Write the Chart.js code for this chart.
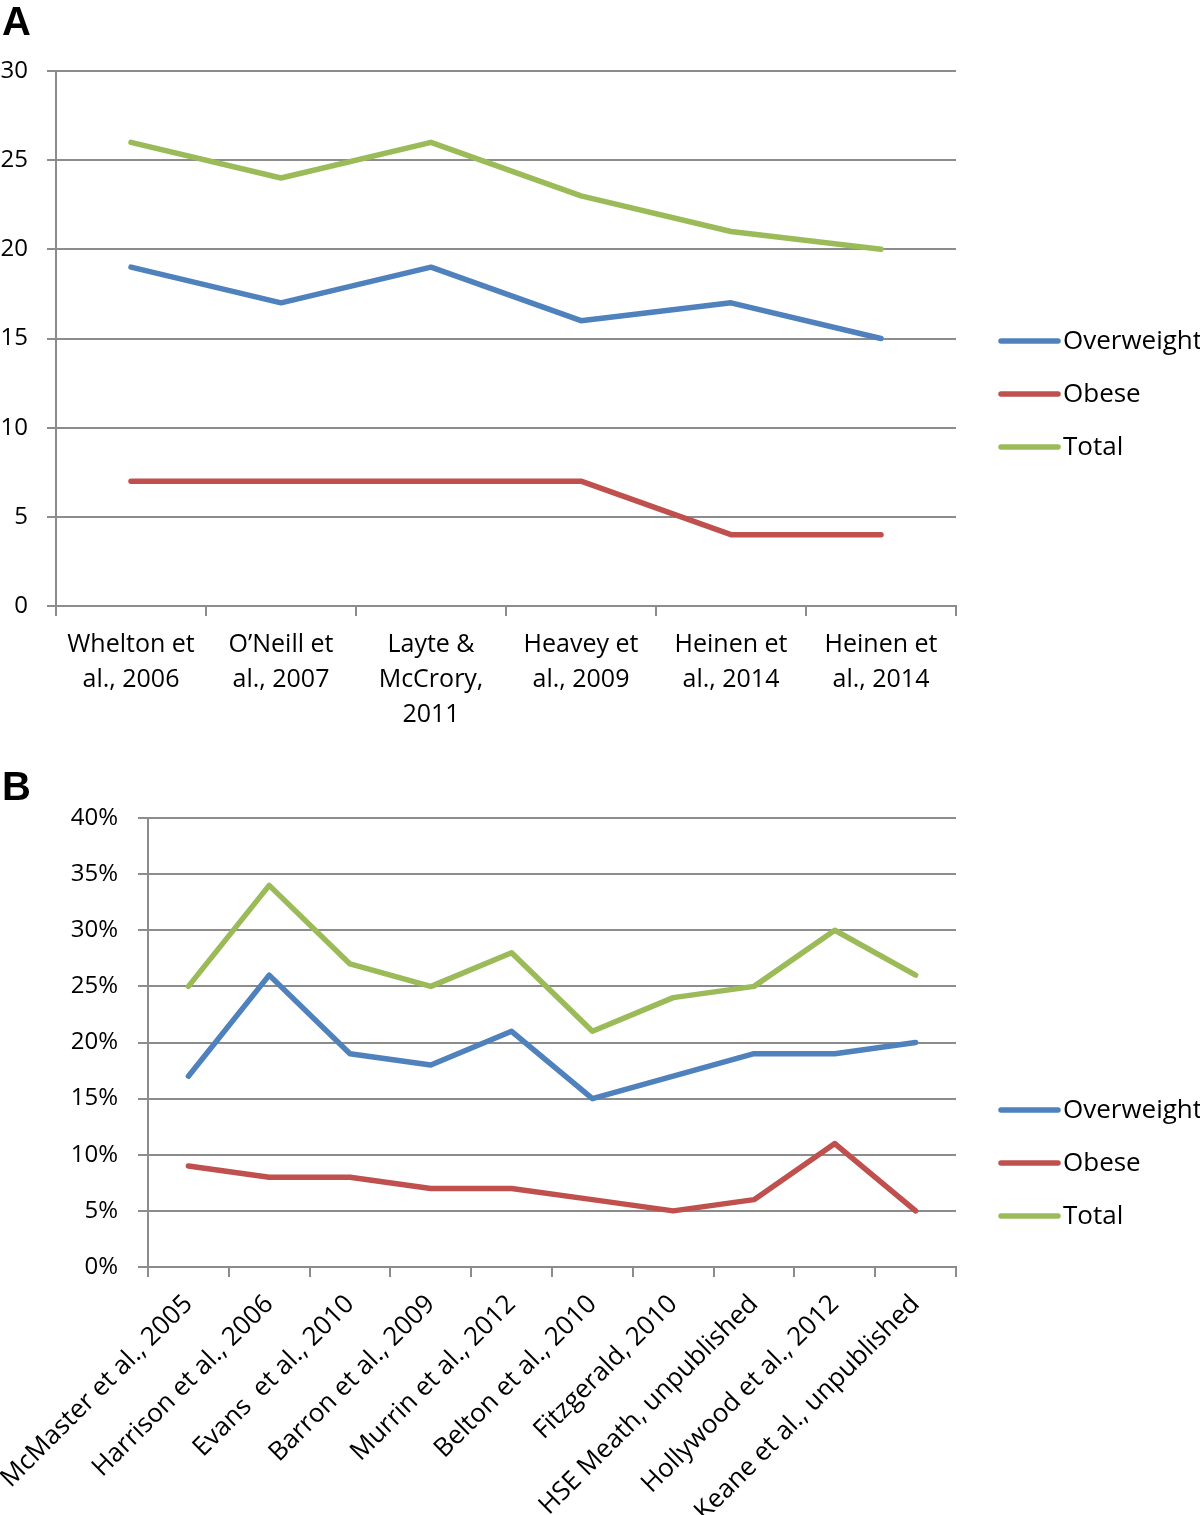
<!DOCTYPE html>
<html>
<head>
<meta charset="utf-8">
<script src="https://cdn.jsdelivr.net/npm/chart.js@4.4.0/dist/chart.umd.min.js"></script>
<style>
  html, body { margin: 0; padding: 0; background: #fff; }
  body { width: 1200px; height: 1515px; position: relative; overflow: hidden; }
  .panel { position: absolute; left: 0; width: 1200px; }
  .tag { position: absolute; left: 2px; font: bold 40px "Liberation Sans", Arial, sans-serif; color: #000; z-index: 2; }
</style>
</head>
<body>
<div class="tag" style="top:-1px">A</div>
<div class="panel" style="top:0; height:740px"><canvas id="chartA"></canvas></div>
<div class="tag" style="top:764px">B</div>
<div class="panel" style="top:740px; height:775px"><canvas id="chartB"></canvas></div>
<script>
// 패널 A 데이터
const studiesA = [
  ['Whelton et', 'al., 2006'],
  ['O\u2019Neill et', 'al., 2007'],
  ['Layte &', 'McCrory,', '2011'],
  ['Heavey et', 'al., 2009'],
  ['Heinen et', 'al., 2014'],
  ['Heinen et', 'al., 2014']
];
const overweightA = [19, 17, 19, 16, 17, 15];
const obeseA = [7, 7, 7, 7, 4, 4];
const totalA = [26, 24, 26, 23, 21, 20];

// 패널 B 데이터 (%)
const studiesB = [
  'McMaster et al., 2005',
  'Harrison et al., 2006',
  'Evans  et al., 2010',
  'Barron et al., 2009',
  'Murrin et al., 2012',
  'Belton et al., 2010',
  'Fitzgerald, 2010',
  'HSE Meath, unpublished',
  'Hollywood et al., 2012',
  'Keane et al., unpublished'
];
const overweightB = [17, 26, 19, 18, 21, 15, 17, 19, 19, 20];
const obeseB = [9, 8, 8, 7, 7, 6, 5, 6, 11, 5];
const totalB = [25, 34, 27, 25, 28, 21, 24, 25, 30, 26];

const BLUE = '#4F81BD';
const RED = '#C0504D';
const GREEN = '#9BBB59';
const GRID = '#8c8c8c';
const FAMILY = '"Open Sans", sans-serif';

Chart.defaults.font.family = FAMILY;
Chart.defaults.color = '#000';

function series(label, data, color) {
  return {
    label: label,
    data: data,
    borderColor: color,
    backgroundColor: color,
    borderWidth: 5.5,
    pointRadius: 0,
    tension: 0,
    borderCapStyle: 'round',
    borderJoinStyle: 'round',
    fill: false
  };
}

// 오른쪽 범례 (선 + 글자)
const sideLegend = {
  id: 'sideLegend',
  afterDraw(chart, args, opts) {
    const ctx = chart.ctx;
    const x0 = chart.chartArea.right + 45;
    chart.data.datasets.forEach((ds, i) => {
      const y = opts.top + i * 53;
      ctx.save();
      ctx.strokeStyle = ds.borderColor;
      ctx.lineWidth = 5.5;
      ctx.lineCap = 'round';
      ctx.beginPath();
      ctx.moveTo(x0, y);
      ctx.lineTo(x0 + 57, y);
      ctx.stroke();
      ctx.fillStyle = '#000';
      ctx.font = '26px ' + FAMILY;
      ctx.textBaseline = 'middle';
      ctx.fillText(ds.label, x0 + 62, y + 1);
      ctx.restore();
    });
  }
};

// 패널 A 차트
new Chart(document.getElementById('chartA'), {
  type: 'line',
  data: {
    labels: studiesA,
    datasets: [
      series('Overweight', overweightA, BLUE),
      series('Obese', obeseA, RED),
      series('Total', totalA, GREEN)
    ]
  },
  options: {
    responsive: true,
    maintainAspectRatio: false,
    animation: false,
    layout: { padding: { top: 71, right: 244, left: 0, bottom: 0 } },
    plugins: { legend: { display: false }, tooltip: { enabled: false }, sideLegend: { top: 341 } },
    scales: {
      x: {
        offset: true,
        grid: { offset: true, drawOnChartArea: false, color: GRID, lineWidth: 2, tickLength: 10 },
        border: { color: GRID, width: 2 },
        ticks: { font: { size: 25, lineHeight: 1.4 }, padding: 11, maxRotation: 0, autoSkip: false },
        afterFit(scale) { scale.height = 134; scale.paddingLeft = 0; scale.paddingRight = 0; }
      },
      y: {
        min: 0, max: 30,
        ticks: { stepSize: 5, font: { size: 24 }, padding: 19 },
        grid: { color: GRID, lineWidth: 2, tickLength: 9 },
        border: { color: GRID, width: 2 },
        afterFit(scale) { scale.width = 56; }
      }
    }
  },
  plugins: [sideLegend]
});

// 패널 B 차트
new Chart(document.getElementById('chartB'), {
  type: 'line',
  data: {
    labels: studiesB,
    datasets: [
      series('Overweight', overweightB, BLUE),
      series('Obese', obeseB, RED),
      series('Total', totalB, GREEN)
    ]
  },
  options: {
    responsive: true,
    maintainAspectRatio: false,
    animation: false,
    layout: { padding: { top: 78, right: 244, left: 0, bottom: 0 } },
    plugins: { legend: { display: false }, tooltip: { enabled: false }, sideLegend: { top: 370 } },
    scales: {
      x: {
        offset: true,
        grid: { offset: true, drawOnChartArea: false, color: GRID, lineWidth: 2, tickLength: 10 },
        border: { color: GRID, width: 2 },
        ticks: { font: { size: 26 }, padding: 12, minRotation: 45, maxRotation: 45, autoSkip: false },
        afterFit(scale) { scale.height = 248; scale.paddingLeft = 0; scale.paddingRight = 0; }
      },
      y: {
        min: 0, max: 40,
        ticks: { stepSize: 5, font: { size: 24 }, padding: 20, callback: v => v + '%' },
        grid: { color: GRID, lineWidth: 2, tickLength: 10 },
        border: { color: GRID, width: 2 },
        afterFit(scale) { scale.width = 148; }
      }
    }
  },
  plugins: [sideLegend]
});
</script>
</body>
</html>
